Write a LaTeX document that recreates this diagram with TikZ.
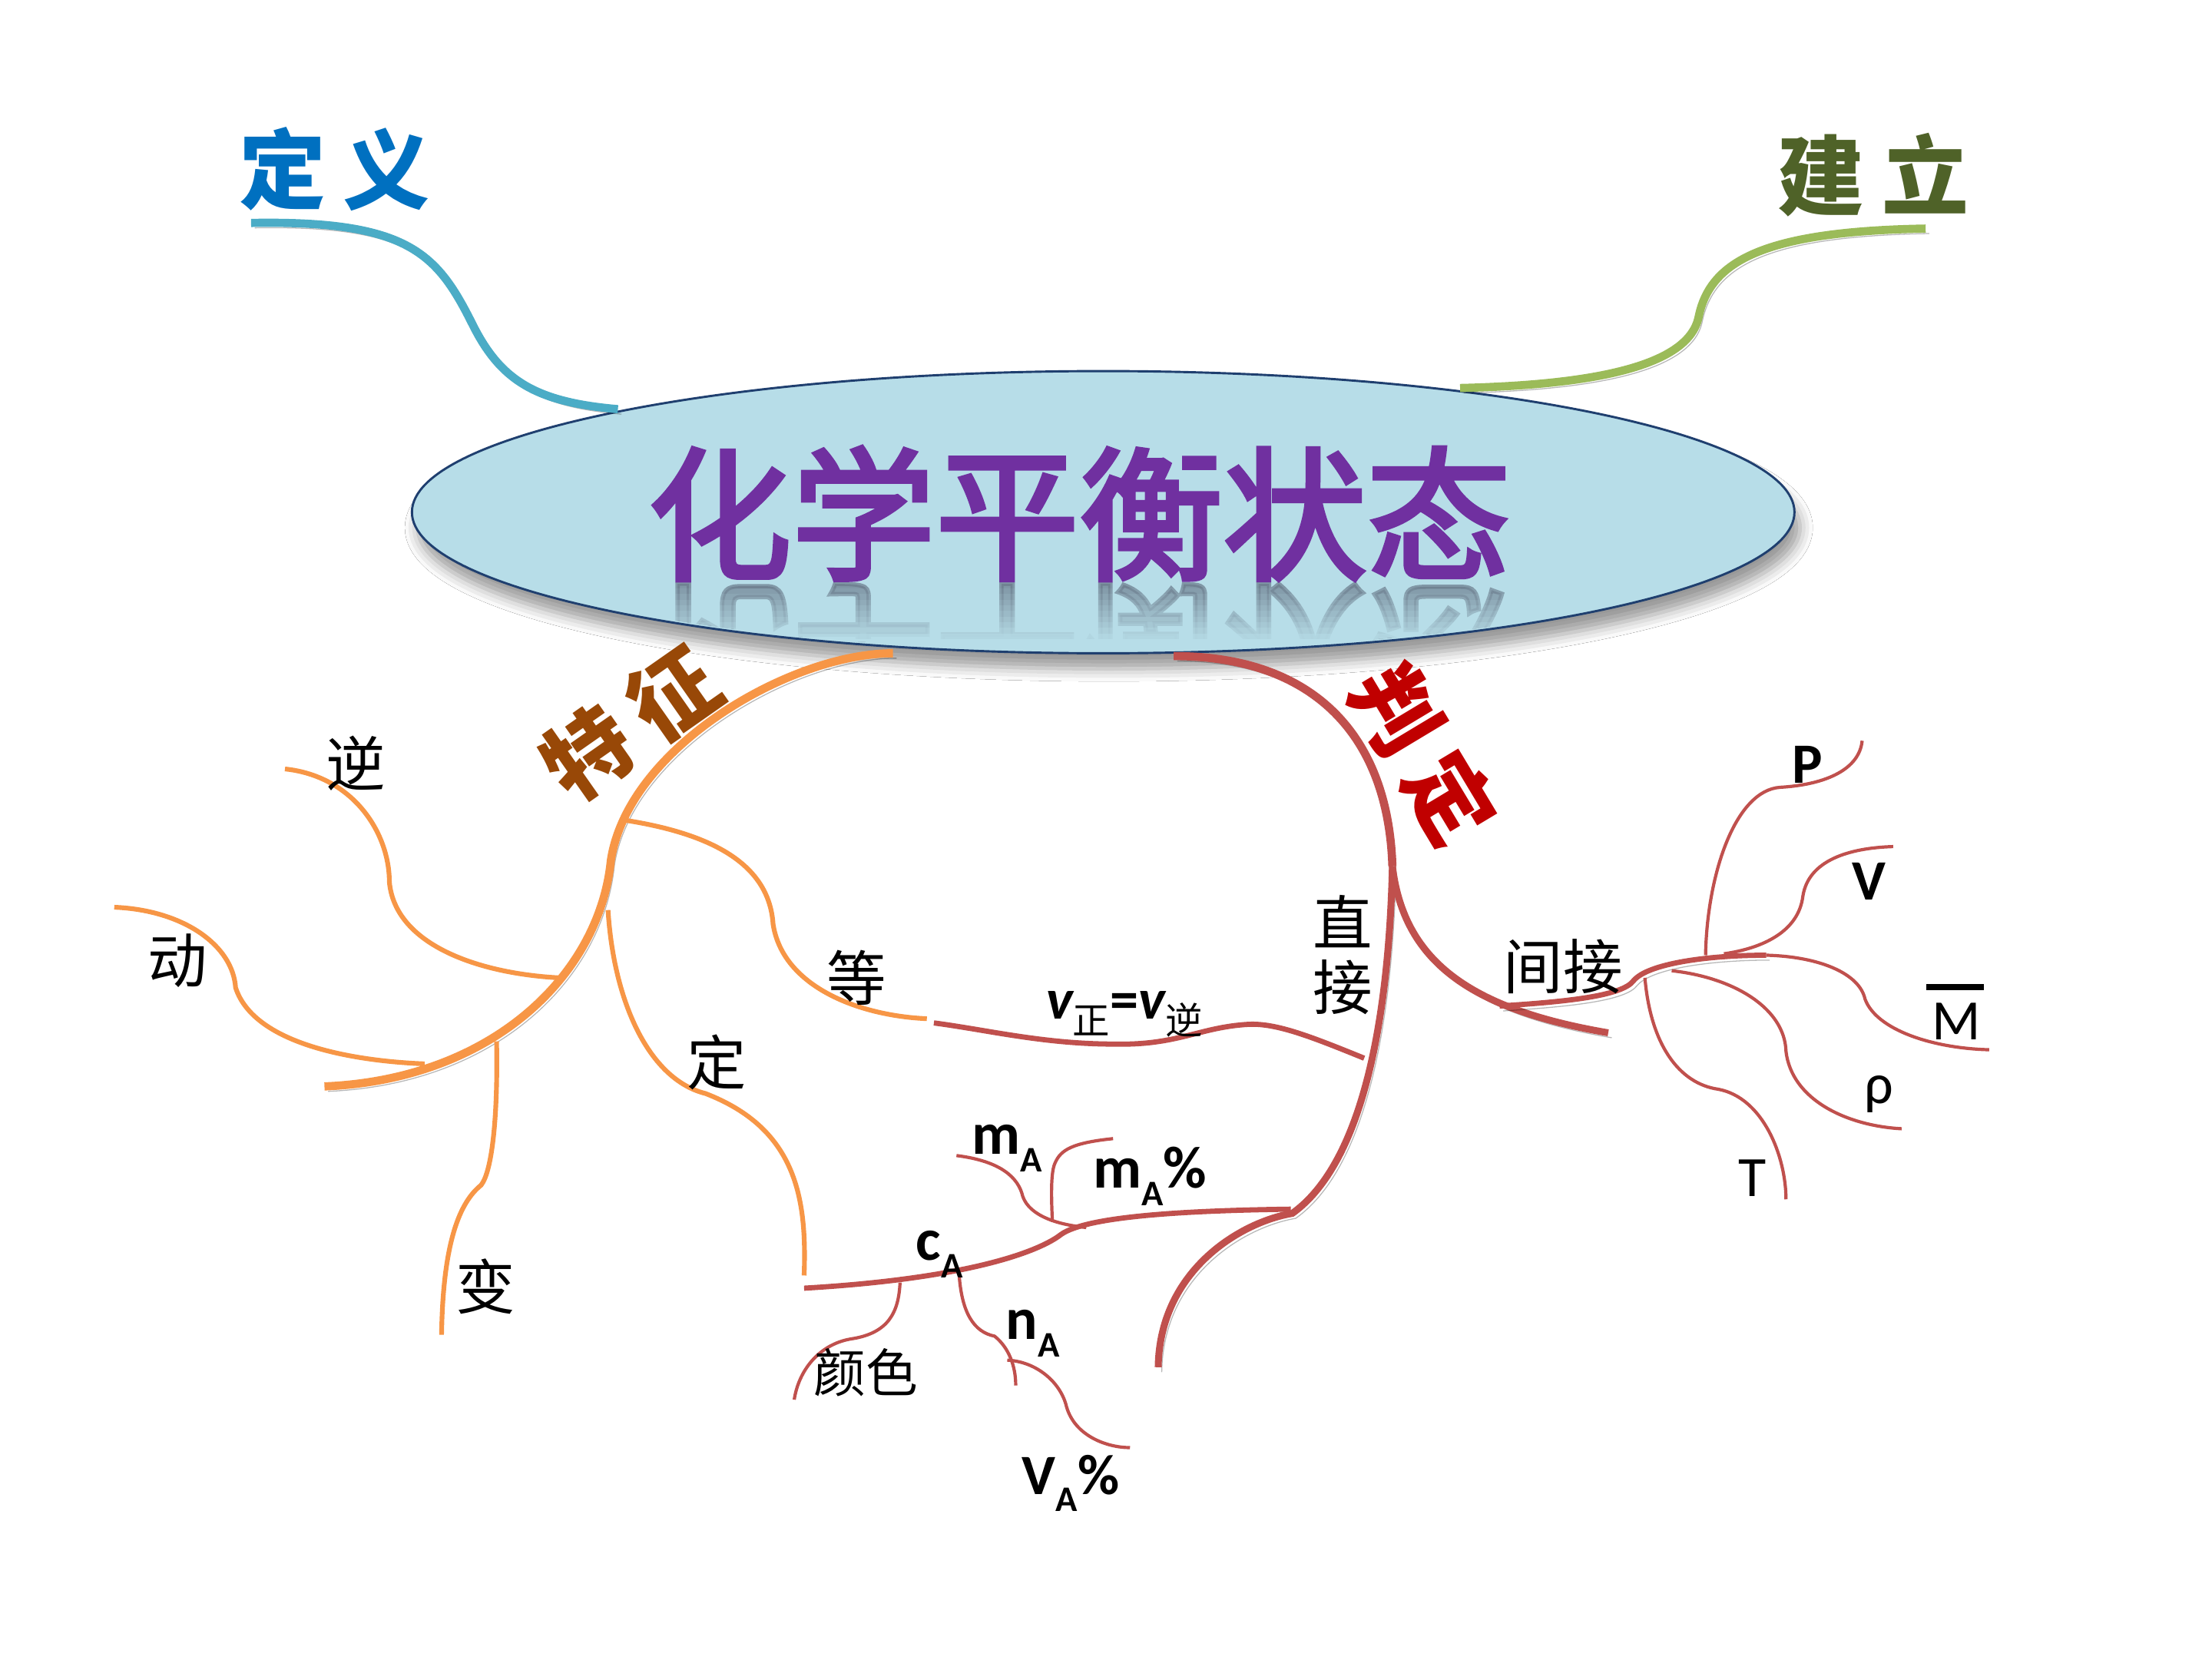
\documentclass[tikz,border=0pt]{standalone}
\usepackage{fontspec}
\setmainfont{Carlito}
\newfontfamily\cjk{Noto Sans CJK SC}
\newfontfamily\cjktitle{Noto Sans CJK SC}[FakeBold=3]
\newfontfamily\cjkwide{Noto Sans CJK SC}[LetterSpace=20]
\usetikzlibrary{shapes.geometric,shadows.blur}
\definecolor{ellfill}{HTML}{B7DDE8}
\definecolor{ellline}{HTML}{1F3F6F}
\definecolor{titlec}{HTML}{7030A0}
\definecolor{reflc}{HTML}{6A7A8A}
\definecolor{blueL}{HTML}{4BACC6}
\definecolor{greenL}{HTML}{9BBB59}
\definecolor{orangeL}{HTML}{F79646}
\definecolor{redL}{HTML}{C0504D}
\definecolor{defc}{HTML}{0070C0}
\definecolor{estc}{HTML}{4F6228}
\definecolor{featc}{HTML}{984807}
\definecolor{judc}{HTML}{C00000}
\newcommand\subA{\raisebox{-0.3em}{\fontsize{14.5}{14.5}\selectfont A}}
\newcommand\cjksub[1]{\raisebox{-0.28em}{\cjk\mdseries\upshape\fontsize{15}{15}\selectfont #1}}
\begin{document}
\begin{tikzpicture}[x=0.2mm,y=-0.2mm,
  lshadow/.style={preaction={draw=black, draw opacity=0.28, transform canvas={shift={(0.5mm,-0.7mm)}}}},
  mainw/.style={line width=3.3pt},
  dirw/.style={line width=2.8pt},
  midw/.style={line width=2.1pt},
  subw/.style={line width=1.9pt},
  thinw/.style={line width=1.3pt},
  cjklab/.style={inner sep=0pt, font=\cjk\fontsize{24}{26}\selectfont},
  latb/.style={inner sep=0pt, anchor=base, font=\bfseries\fontsize{24}{24}\selectfont},
  latr/.style={inner sep=0pt, anchor=base, font=\fontsize{23}{23}\selectfont},
  biglab/.style={inner sep=0pt, font=\cjkwide\bfseries\fontsize{35}{35}\selectfont},
]
\fill[white] (0,0) rectangle (1568,1176);
\useasboundingbox (0,0) rectangle (1568,1176);

% central ellipse
\node[ellipse, draw=ellline, line width=0.9pt, fill=ellfill, minimum width=196mm, minimum height=40mm, inner sep=0pt,
  blur shadow={shadow xshift=0.8mm, shadow yshift=-2.2mm, shadow blur radius=1.8mm, shadow opacity=40}] (core) at (782,363) {};

% reflection of the title
\begin{scope}
  \clip (782,363) ellipse [x radius=488, y radius=98];
  \clip (400,413) rectangle (1150,455);
  \node[inner sep=0pt, yscale=-1, text=reflc, text opacity=0.7, font=\cjktitle\fontsize{58}{58}\selectfont] (titleRefl) at (765,461) {化学平衡状态};
  \foreach \i [evaluate=\i as \o using \i/10] in {0,...,10}
    \fill[ellfill, opacity=\o] (400,{413+4*\i}) rectangle (1150,{417+4*\i});
\end{scope}

\node[inner sep=0pt, text=titlec, font=\cjktitle\fontsize{58}{58}\selectfont] (title) at (765,364) {化学平衡状态};

% named points
\coordinate (defEnd) at (178,158);
\coordinate (defRoot) at (438,290);
\coordinate (estEnd) at (1365,162);
\coordinate (estRoot) at (1035,275);
\coordinate (featRoot) at (633,463);
\coordinate (featMid) at (433,610);
\coordinate (featEnd) at (230,770);
\coordinate (judRoot) at (832,465);
\coordinate (judFork) at (987,614);
\coordinate (dirKnee) at (916,860);
\coordinate (dirEnd) at (821,969);
\coordinate (indEnd) at (1140,732);
\coordinate (indStart) at (1063,713);
\coordinate (indHub) at (1252,677);

% definition / establishment
\draw[blueL, mainw, lshadow] (defEnd) .. controls (290,156) and (310,180) .. (335,230) .. controls (355,270) and (380,285) .. (defRoot);
\draw[greenL, mainw, lshadow] (estEnd) .. controls (1250,164) and (1212,185) .. (1204,225) .. controls (1196,262) and (1120,273) .. (estRoot);

% features (orange)
\draw[orangeL, mainw, lshadow] (featRoot) .. controls (560,463) and (445,530) .. (featMid) .. controls (425,690) and (350,765) .. (featEnd);
\coordinate (eqFork) at (441,581);
\coordinate (eqEnd) at (657,722);
\coordinate (dingFork) at (431,645);
\coordinate (dingEnd) at (570,904);
\coordinate (niEnd) at (202,545);
\coordinate (niFork) at (396,693);
\coordinate (dongEnd) at (81,643);
\coordinate (dongFork) at (301,754);
\coordinate (bianFork) at (352,738);
\coordinate (bianEnd) at (313,946);
\draw[orangeL, subw] (eqFork) .. controls (500,590) and (545,610) .. (548,655) .. controls (555,700) and (610,720) .. (eqEnd);
\draw[orangeL, subw] (dingFork) .. controls (435,710) and (460,765) .. (500,775) .. controls (565,800) and (572,850) .. (dingEnd);
\draw[orangeL, subw] (niEnd) .. controls (250,550) and (276,590) .. (276,625) .. controls (280,670) and (340,690) .. (niFork);
\draw[orangeL, subw] (dongEnd) .. controls (130,645) and (165,670) .. (167,700) .. controls (180,740) and (250,752) .. (dongFork);
\draw[orangeL, subw] (bianFork) .. controls (353,790) and (349,830) .. (341,840) .. controls (326,852) and (314,880) .. (bianEnd);

% judgement (red)
\draw[redL, mainw, lshadow] (judRoot) .. controls (930,465) and (984,520) .. (judFork);
\draw[redL, dirw, lshadow] (judFork) .. controls (985,700) and (972,820) .. (dirKnee) .. controls (880,866) and (822,900) .. (dirEnd);
\draw[redL, dirw, lshadow] (judFork) .. controls (995,680) and (1040,715) .. (indEnd);
\draw[redL, midw, lshadow] (indStart) .. controls (1110,710) and (1150,706) .. (1158,695) .. controls (1168,683) and (1210,677) .. (indHub);

% v line
\coordinate (vFork) at (967,750);
\coordinate (vEnd) at (662,725);
\draw[redL, midw] (vFork) .. controls (930,735) and (905,725) .. (885,726) .. controls (850,728) and (835,741) .. (790,740) .. controls (740,740) and (700,730) .. (vEnd);

% c_A line and its branches
\coordinate (cFork) at (915,857);
\coordinate (cEnd) at (570,913);
\draw[redL, midw] (cFork) .. controls (840,858) and (770,862) .. (752,875) .. controls (738,886) and (690,906) .. (cEnd);
\coordinate (mEnd) at (678,819);
\coordinate (mFork) at (770,870);
\draw[redL, thinw] (mEnd) .. controls (710,823) and (722,835) .. (725,848) .. controls (730,862) and (750,868) .. (mFork);
\coordinate (mpFork) at (746,866);
\coordinate (mpEnd) at (789,807);
\draw[redL, thinw] (mpFork) .. controls (745,845) and (745,830) .. (748,824) .. controls (752,815) and (760,810) .. (mpEnd);
\coordinate (colFork) at (638,909);
\coordinate (colEnd) at (563,992);
\draw[redL, thinw] (colFork) .. controls (637,930) and (630,945) .. (603,949) .. controls (580,953) and (566,972) .. (colEnd);
\coordinate (nFork) at (680,905);
\coordinate (nEnd) at (720,982);
\draw[redL, thinw] (nFork) .. controls (682,930) and (690,944) .. (705,947) .. controls (715,955) and (720,968) .. (nEnd);
\coordinate (vaFork) at (714,964);
\coordinate (vaEnd) at (801,1026);
\draw[redL, thinw] (vaFork) .. controls (735,965) and (752,980) .. (756,997) .. controls (762,1018) and (785,1026) .. (vaEnd);

% indirect fan
\draw[redL, thinw] (1209,677) .. controls (1210,620) and (1230,560) .. (1262,558) .. controls (1295,556) and (1318,545) .. (1320,525);
\draw[redL, thinw] (1222,676) .. controls (1250,672) and (1275,660) .. (1278,635) .. controls (1282,610) and (1310,601) .. (1342,600);
\draw[redL, thinw] (indHub) .. controls (1290,678) and (1318,690) .. (1322,708) .. controls (1330,730) and (1370,743) .. (1410,744);
\draw[redL, thinw] (1185,688) .. controls (1230,693) and (1265,715) .. (1266,745) .. controls (1270,780) and (1310,798) .. (1348,800);
\draw[redL, thinw] (1166,693) .. controls (1170,740) and (1190,768) .. (1218,772) .. controls (1250,778) and (1266,820) .. (1266,850);

% big labels
\node[biglab, text=defc] (def) at (237,120) {定义};
\node[biglab, text=estc] (est) at (1328,124) {建立};
\node[biglab, text=featc, rotate=35] (feat) at (447,513) {特征};
\node[biglab, text=judc, rotate=-59] (jud) at (1009,534) {判定};

% small CJK labels
\node[cjklab] (ni) at (252,541) {逆};
\node[cjklab] (dong) at (126,681) {动};
\node[cjklab] (bian) at (344,912) {变};
\node[cjklab] (ding) at (508,753) {定};
\node[cjklab] (deng) at (607,693) {等};
\node[cjklab, align=center] (direct) at (952,677) {直\\接};
\node[cjklab] (indirect) at (1108,685) {间接};
\node[cjklab, font=\cjk\fontsize{21}{21}\selectfont] (color) at (614,973) {颜色};

% latin labels
\node[latb, font=\bfseries\itshape\fontsize{23}{23}\selectfont] (veq) at (797,722) {v\cjksub{正}\upshape=\itshape v\cjksub{逆}};
\node[latb] (mA) at (714,818) {m\subA};
\node[latb] (mAp) at (815,842) {m\subA\%};
\node[latb] (cA) at (666,893) {c\subA};
\node[latb] (nA) at (732,949) {n\subA};
\node[latb, font=\bfseries\fontsize{23}{23}\selectfont] (VAp) at (759,1059) {V\subA\%};
\node[latb, font=\bfseries\fontsize{23}{23}\selectfont] (P) at (1281,555) {P};
\node[latb, font=\bfseries\fontsize{23}{23}\selectfont] (V) at (1325,638) {V};
\node[latr] (Mbar) at (1387,737) {\makebox[0pt][l]{\hspace{-0.1em}\raisebox{0.87em}{\rule{1.0em}{0.11em}}}M};
\node[latr] (rho) at (1332,782) {ρ};
\node[latr] (T) at (1242,848) {T};
\end{tikzpicture}
\end{document}
